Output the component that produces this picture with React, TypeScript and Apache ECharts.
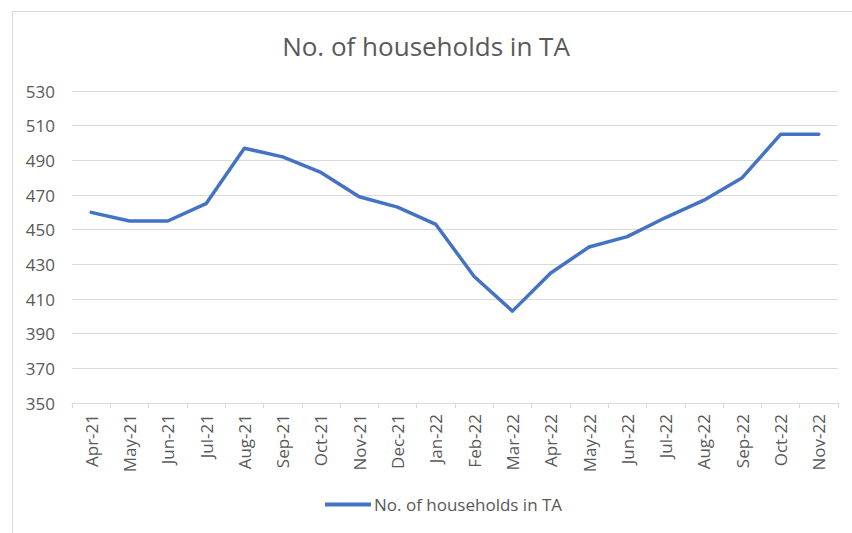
import React, { useEffect, useRef } from "react";
import * as echarts from "echarts";

const categories = ["Apr-21","May-21","Jun-21","Jul-21","Aug-21","Sep-21","Oct-21","Nov-21","Dec-21","Jan-22","Feb-22","Mar-22","Apr-22","May-22","Jun-22","Jul-22","Aug-22","Sep-22","Oct-22","Nov-22"];
const households = [460,455,455,465,497,492,483,469,463,453,423,403,425,440,446,457,467,480,505,505];
const seriesName = "No. of households in TA";
const titleText = "No. of households in TA";

export default function App() {
  const ref = useRef<HTMLDivElement>(null);
  useEffect(() => {
    document.body.style.margin = "0";
    const chart = echarts.init(ref.current!, null, { renderer: "svg" });
    const font = "Open Sans";
    chart.setOption({
      animation: false,
      backgroundColor: "#ffffff",
      textStyle: { fontFamily: font },
      title: {
        text: titleText,
        left: "center",
        top: 28,
        textStyle: { fontFamily: font, fontSize: 26, fontWeight: "normal", color: "#595959" },
      },
      graphic: [
        { type: "rect", shape: { x: 12.5, y: 11.5, width: 850, height: 540 }, style: { fill: "none", stroke: "#d9d9d9", lineWidth: 1 }, silent: true },
      ],
      legend: {
        bottom: 15,
        left: 320,
        itemWidth: 46,
        itemHeight: 4,
        itemGap: 4,
        icon: "rect",
        textStyle: { fontFamily: font, fontSize: 17, color: "#595959", padding: [0, 0, 0, -2] },
        data: [seriesName],
      },
      grid: { left: 72, right: 14, top: 91, bottom: 130, containLabel: false },
      xAxis: {
        type: "category",
        data: categories,
        boundaryGap: true,
        axisLine: { lineStyle: { color: "#d9d9d9" } },
        axisTick: { show: true, length: 5, alignWithLabel: false, lineStyle: { color: "#d9d9d9" } },
        axisLabel: { rotate: 90, fontFamily: font, fontSize: 17, color: "#595959", margin: 11, interval: 0 },
      },
      yAxis: {
        type: "value",
        min: 350,
        max: 530,
        interval: 20,
        axisLine: { show: false },
        axisTick: { show: false },
        splitLine: { lineStyle: { color: "#d9d9d9" } },
        axisLabel: { fontFamily: font, fontSize: 17, color: "#595959", margin: 17 },
      },
      series: [
        {
          name: seriesName,
          type: "line",
          data: households,
          symbol: "none",
          lineStyle: { color: "#4472C4", width: 3.5, join: "round", cap: "round" },
          itemStyle: { color: "#4472C4" },
        },
      ],
    });
    return () => chart.dispose();
  }, []);
  return <div ref={ref} style={{ width: 852, height: 533 }} />;
}
